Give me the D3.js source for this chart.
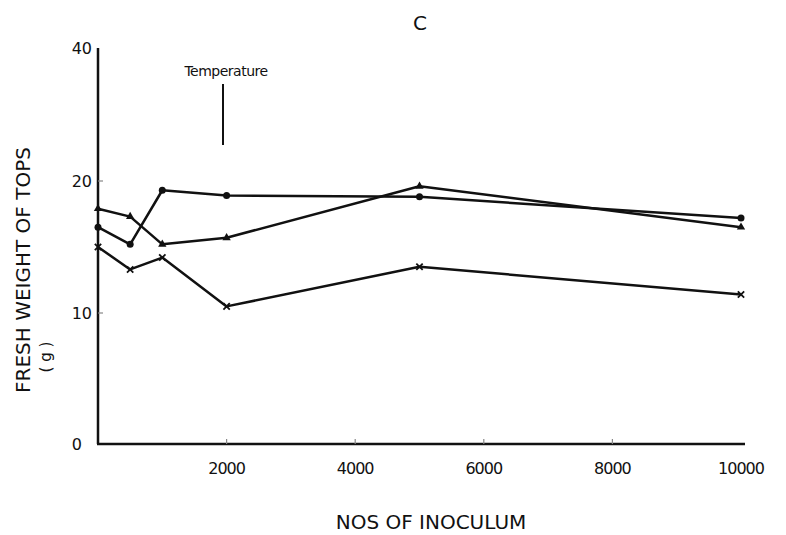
<!DOCTYPE html>
<html>
<head>
<meta charset="utf-8">
<script src="https://cdn.jsdelivr.net/npm/d3@7"></script>
<style>
  body { margin: 0; background: #fff; }
  text { font-family: "DejaVu Sans", sans-serif; fill: #111; }
</style>
</head>
<body>
<svg id="chart" width="786" height="535"></svg>
<script>
// data
const inoculum = [0, 500, 1000, 2000, 5000, 10000];
const circleSeries = [16.5, 15.2, 19.3, 18.9, 18.8, 17.2];
const triangleSeries = [17.9, 17.3, 15.2, 15.7, 19.6, 16.5];
const crossSeries = [15.0, 13.3, 14.2, 10.5, 13.5, 11.4];
const xTicks = [2000, 4000, 6000, 8000, 10000];
const yTicks = [0, 10, 20, 40];

const svg = d3.select("#chart");

// axis in the original is broken: 20 -> 40 takes the same room as 10 -> 20
const x = d3.scaleLinear().domain([0, 10000]).range([98, 741]);
const y = d3.scaleLinear().domain([0, 10, 20, 40]).range([444, 313, 181, 48]);

// axes
svg.append("line")
    .attr("x1", x(0)).attr("x2", x(0))
    .attr("y1", y(40)).attr("y2", y(0))
    .attr("stroke", "#111").attr("stroke-width", 2.5);
svg.append("line")
    .attr("x1", x(0) - 1).attr("x2", 745)
    .attr("y1", y(0)).attr("y2", y(0))
    .attr("stroke", "#111").attr("stroke-width", 2.5);

// small inward ticks
svg.selectAll(".xt")
    .data(xTicks.slice(0, 4))
    .enter().append("line")
    .attr("x1", d => x(d)).attr("x2", d => x(d))
    .attr("y1", y(0)).attr("y2", y(0) - 5)
    .attr("stroke", "#888").attr("stroke-width", 1.2);
svg.selectAll(".yt")
    .data([10, 20])
    .enter().append("line")
    .attr("x1", x(0)).attr("x2", x(0) + 5)
    .attr("y1", d => y(d)).attr("y2", d => y(d))
    .attr("stroke", "#888").attr("stroke-width", 1.2);

// tick labels
svg.selectAll(".xl")
    .data(xTicks)
    .enter().append("text")
    .attr("x", d => x(d)).attr("y", 474)
    .attr("text-anchor", "middle")
    .attr("font-size", 16)
    .style("letter-spacing", "-1px")
    .text(d => d);
svg.selectAll(".yl")
    .data(yTicks)
    .enter().append("text")
    .attr("x", d => d === 0 ? 82 : 92).attr("y", d => y(d) + 6)
    .attr("text-anchor", "end")
    .attr("font-size", 16)
    .text(d => d);

// lines
const line = d3.line().x((d, i) => x(inoculum[i])).y(d => y(d));
[circleSeries, triangleSeries, crossSeries].forEach(s => {
    svg.append("path")
        .attr("d", line(s))
        .attr("fill", "none")
        .attr("stroke", "#111")
        .attr("stroke-width", 2.5)
        .attr("stroke-linejoin", "round");
});

// markers
svg.selectAll(".mc")
    .data(circleSeries)
    .enter().append("circle")
    .attr("cx", (d, i) => x(inoculum[i])).attr("cy", d => y(d))
    .attr("r", 3.5).attr("fill", "#111");
svg.selectAll(".mt")
    .data(triangleSeries)
    .enter().append("path")
    .attr("d", d3.symbol(d3.symbolTriangle, 30))
    .attr("transform", (d, i) => `translate(${x(inoculum[i])},${y(d)})`)
    .attr("fill", "#111");
svg.selectAll(".mx")
    .data(crossSeries)
    .enter().append("path")
    .attr("d", d3.symbol(d3.symbolTimes, 28))
    .attr("transform", (d, i) => `translate(${x(inoculum[i])},${y(d)})`)
    .attr("fill", "none")
    .attr("stroke", "#111")
    .attr("stroke-width", 1.8);

// titles and labels
svg.append("text")
    .attr("x", 420).attr("y", 30)
    .attr("text-anchor", "middle")
    .attr("font-size", 20)
    .text("C");

svg.append("text")
    .attr("x", 226).attr("y", 76)
    .attr("text-anchor", "middle")
    .attr("font-size", 14)
    .style("letter-spacing", "-0.5px")
    .text("Temperature");
svg.append("line")
    .attr("x1", 223).attr("x2", 223)
    .attr("y1", 84).attr("y2", 145)
    .attr("stroke", "#111").attr("stroke-width", 2);

svg.append("text")
    .attr("transform", "translate(30,270) rotate(-90)")
    .attr("text-anchor", "middle")
    .attr("font-size", 20)
    .text("FRESH WEIGHT OF TOPS");
svg.append("text")
    .attr("transform", "translate(51,357) rotate(-90)")
    .attr("text-anchor", "middle")
    .attr("font-size", 15)
    .text("( g )");

svg.append("text")
    .attr("x", 431).attr("y", 529)
    .attr("text-anchor", "middle")
    .attr("font-size", 20)
    .text("NOS OF INOCULUM");
</script>
</body>
</html>
